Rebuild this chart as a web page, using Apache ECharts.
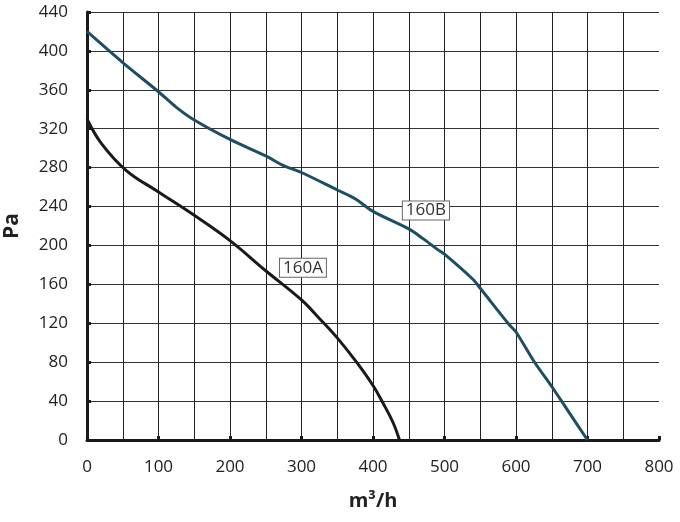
<!DOCTYPE html>
<html>
<head>
<meta charset="utf-8">
<script src="https://cdn.jsdelivr.net/npm/echarts@6/dist/echarts.min.js"></script>
<style>html,body{margin:0;padding:0;background:#fff}#c{width:680px;height:522px}</style>
</head>
<body>
<div id="c"></div>
<script>
const xTicks = [0, 100, 200, 300, 400, 500, 600, 700, 800];
const yTicks = [0, 40, 80, 120, 160, 200, 240, 280, 320, 360, 400, 440];
const seriesA_name = '160A';
const seriesA = [[0,330],[20,305],[55,277],[100,255],[150,231],[200,205],[250,174],[300,144],[325,125],[350,105],[377,80],[400,56],[414,38],[428,18],[437,0]];
const seriesB_name = '160B';
const seriesB = [[0,420],[50,388],[100,358],[125,342],[150,329],[200,309],[250,292],[275,282],[300,275],[350,257],[375,248],[400,235],[450,217],[470,207],[490,196],[500,191],[540,165],[550,156],[590,119],[600,111],[625,81],[650,55],[670,33],[700,0]];
const labelA = [302, 177];
const labelB = [474, 236];

const chart = echarts.init(document.getElementById('c'), null, {renderer: 'canvas'});
const font = '"Open Sans", "Noto Sans", sans-serif';
function boxLabel(name, coord) {
  return {
    symbol: 'rect', symbolSize: 0,
    data: [{ coord: coord, value: name }],
    label: {
      show: true, position: 'inside', formatter: name,
      fontFamily: font, fontSize: 17, color: '#333',
      backgroundColor: '#fff', borderColor: '#666', borderWidth: 1,
      padding: [1, 3, 0, 3]
    }
  };
}
chart.setOption({
  animation: false,
  backgroundColor: '#fff',
  grid: { left: 87, right: 21, top: 12, bottom: 82, containLabel: false, outerBoundsMode: 'none' },
  xAxis: {
    type: 'value', min: xTicks[0], max: xTicks[xTicks.length - 1], interval: 100,
    name: 'm³/h', nameLocation: 'middle', nameGap: 51,
    nameTextStyle: { fontFamily: font, fontSize: 20, fontWeight: 'bold', color: '#222' },
    axisLine: { show: true, lineStyle: { color: '#1a1a1a', width: 3 } },
    axisTick: { show: true, inside: true, length: 4, lineStyle: { color: '#1a1a1a', width: 3 } },
    axisLabel: { margin: 19, fontFamily: font, fontSize: 17, color: '#222' },
    splitLine: { show: true, showMinLine: false, showMaxLine: false, lineStyle: { color: '#222', width: 1 } },
    minorTick: { show: false, splitNumber: 2 },
    minorSplitLine: { show: true, lineStyle: { color: '#222', width: 1 } }
  },
  yAxis: {
    type: 'value', min: yTicks[0], max: yTicks[yTicks.length - 1], interval: 40,
    name: 'Pa', nameLocation: 'middle', nameGap: 64, nameRotate: 90,
    nameTextStyle: { fontFamily: font, fontSize: 21, fontWeight: 'bold', color: '#222' },
    axisLine: { show: true, lineStyle: { color: '#1a1a1a', width: 3 } },
    axisTick: { show: true, inside: true, length: 4, lineStyle: { color: '#1a1a1a', width: 3 } },
    axisLabel: { margin: 19, fontFamily: font, fontSize: 17, color: '#222' },
    splitLine: { show: true, showMinLine: false, lineStyle: { color: '#333', width: 1 } }
  },
  series: [
    {
      name: seriesA_name, type: 'line', data: seriesA, smooth: 0.4, showSymbol: false,
      lineStyle: { color: '#1a1a1a', width: 3 }, z: 5,
      markPoint: boxLabel(seriesA_name, labelA)
    },
    {
      name: seriesB_name, type: 'line', data: seriesB, smooth: 0.3, showSymbol: false,
      lineStyle: { color: '#1c4f66', width: 3 }, z: 5,
      markPoint: boxLabel(seriesB_name, labelB)
    }
  ]
});
</script>
</body>
</html>
